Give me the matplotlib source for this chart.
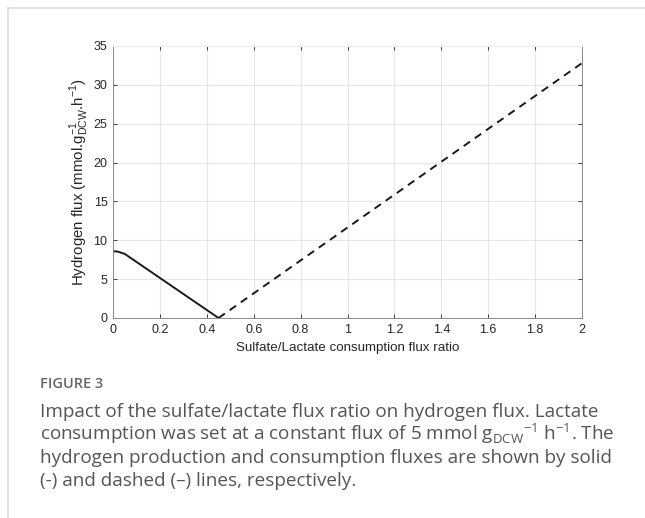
import matplotlib
matplotlib.use("Agg")
import matplotlib.pyplot as plt
from matplotlib.lines import Line2D
from matplotlib.ticker import FuncFormatter

plt.rcParams['mathtext.fontset'] = 'custom'
plt.rcParams['mathtext.rm'] = 'Open Sans'
plt.rcParams['mathtext.sf'] = 'Liberation Sans'

# hydrogen production (solid) and consumption (dashed)
prod_ratio = [0.0, 0.02, 0.05, 0.45]
prod_flux = [8.6, 8.55, 8.25, 0.0]
cons_ratio = [0.45, 2.0]
cons_flux = [0.0, 32.8]

xticks = [0, 0.2, 0.4, 0.6, 0.8, 1.0, 1.2, 1.4, 1.6, 1.8, 2.0]
yticks = [0, 5, 10, 15, 20, 25, 30, 35]

W, H = 645, 518
fig = plt.figure(figsize=(6.45, 5.18), dpi=100)
ax = fig.add_axes([113/W, 1 - 318/H, (582-113)/W, (318-46)/H])

ax.plot(prod_ratio, prod_flux, color='#1a1a1a', lw=1.4)
ax.plot(cons_ratio, cons_flux, color='#1a1a1a', lw=1.4, ls=(0, (4, 3)))

ax.set_xlim(0, 2)
ax.set_ylim(0, 35)
ax.set_xticks(xticks)
ax.set_yticks(yticks)
ax.xaxis.set_major_formatter(FuncFormatter(lambda v, p: '%g' % v))
ax.grid(True, color='#e6e6e6', lw=0.8)
ax.set_axisbelow(True)
ax.tick_params(direction='in', length=3, top=True, right=True, labelsize=9,
               colors='#262626', width=0.6, pad=4)
for s in ['left', 'bottom', 'right']:
    ax.spines[s].set_color('#8a8a8a')
    ax.spines[s].set_linewidth(0.7)
ax.spines['top'].set_color('#ececec')
for lab in ax.get_xticklabels() + ax.get_yticklabels():
    lab.set_family('Liberation Sans')

ax.set_xlabel('Sulfate/Lactate consumption flux ratio', family='Liberation Sans',
              fontsize=9.6, color='#262626', labelpad=5)
ax.set_ylabel(r'Hydrogen flux (mmol.g$^{\mathsf{-1}}_{\mathsf{DCW}}$.h$^{\mathsf{-1}}$)',
              family='Liberation Sans', fontsize=10.8, color='#262626', labelpad=2)

# page frame
fig.add_artist(Line2D([8/W, 8/W], [0, 1 - 8/H], color='#dddddd', lw=1.2))
fig.add_artist(Line2D([8/W, 1], [1 - 8/H, 1 - 8/H], color='#dddddd', lw=1.2))

fig.text(40/W, 1 - 388/H, 'FIGURE 3', family='Open Sans', fontsize=10.5,
         fontweight='semibold', color='#666666', va='baseline')
caption = ["Impact of the sulfate/lactate flux ratio on hydrogen flux. Lactate",
           "consumption was set at a constant flux of 5 mmol g$_{\\mathrm{DCW}}{}^{\\mathrm{-1}}$ h$^{\\mathrm{-1}}$. The",
           "hydrogen production and consumption fluxes are shown by solid",
           "(-) and dashed (\u2013) lines, respectively."]
for i, line in enumerate(caption):
    fig.text(40/W, 1 - (417 + 23*i)/H, line, family='Open Sans', fontsize=13.6,
             color='#555555', va='baseline')

fig.savefig('out.png', dpi=100)
